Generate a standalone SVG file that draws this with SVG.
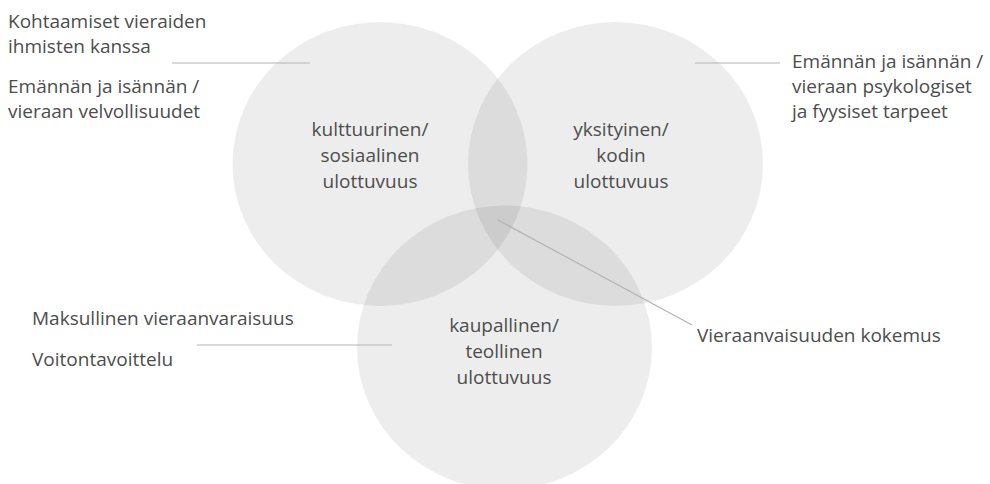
<svg xmlns="http://www.w3.org/2000/svg" width="990" height="484" viewBox="0 0 990 484">
<style>
.c{fill:#000;fill-opacity:0.07}
text{font-family:"Open Sans","Liberation Sans",sans-serif;font-size:19px;fill:#4d4d4d}
.m{text-anchor:middle}
.ln{stroke:#b3b3b3;stroke-width:1.2;fill:none}
</style>
<rect width="990" height="484" fill="#fff"/>
<g id="circle-cultural">
<ellipse class="c" cx="380" cy="164" rx="147.5" ry="142"/>
<text class="m" x="370" y="136">kulttuurinen/</text>
<text class="m" x="370" y="162">sosiaalinen</text>
<text class="m" x="370" y="188">ulottuvuus</text>
</g>
<g id="circle-private">
<ellipse class="c" cx="615.5" cy="164" rx="147.5" ry="142"/>
<text class="m" x="621" y="136">yksityinen/</text>
<text class="m" x="621" y="162">kodin</text>
<text class="m" x="621" y="188">ulottuvuus</text>
</g>
<g id="circle-commercial">
<ellipse class="c" cx="504.5" cy="347.5" rx="147.5" ry="142"/>
<text class="m" x="504" y="332">kaupallinen/</text>
<text class="m" x="504" y="358">teollinen</text>
<text class="m" x="504" y="384">ulottuvuus</text>
</g>
<g id="label-top-left">
<text x="8" y="28">Kohtaamiset vieraiden</text>
<text x="8" y="53">ihmisten kanssa</text>
<text x="8" y="93">Emännän ja isännän /</text>
<text x="8" y="118">vieraan velvollisuudet</text>
</g>
<g id="label-top-right">
<text x="792" y="68">Emännän ja isännän /</text>
<text x="792" y="93">vieraan psykologiset</text>
<text x="792" y="118">ja fyysiset tarpeet</text>
</g>
<g id="label-bottom-left">
<text x="32" y="325">Maksullinen vieraanvaraisuus</text>
<text x="32" y="366">Voitontavoittelu</text>
</g>
<g id="label-experience">
<text x="697" y="342">Vieraanvaisuuden kokemus</text>
</g>
<g id="connectors">
<line class="ln" x1="172" y1="63" x2="310" y2="63"/>
<line class="ln" x1="695" y1="63" x2="780" y2="63"/>
<line class="ln" x1="197" y1="345" x2="392" y2="345"/>
<line class="ln" x1="497" y1="219.5" x2="692" y2="325"/>
</g>
</svg>
